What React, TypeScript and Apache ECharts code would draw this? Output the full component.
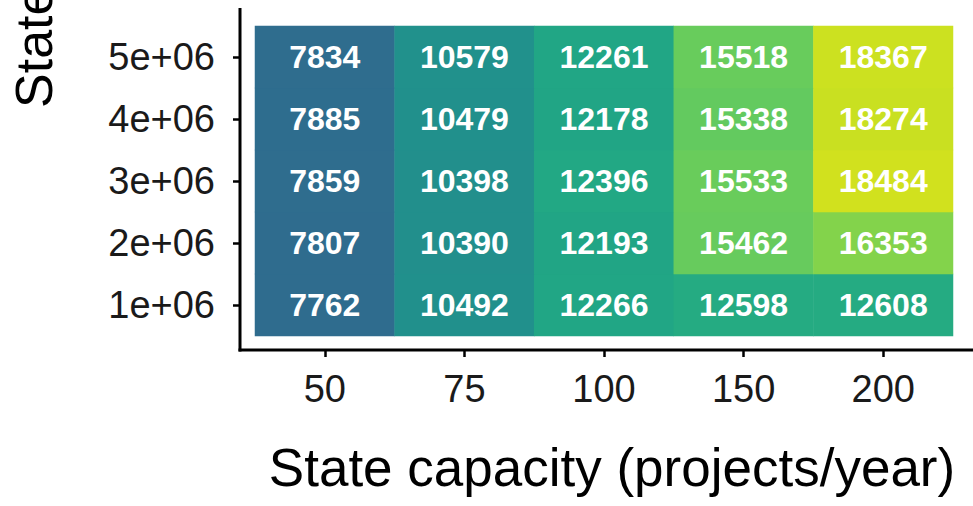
import React, { useEffect, useRef } from "react";
import * as echarts from "echarts";

const xCategories = ["50", "75", "100", "150", "200"];
const yCategories = ["1e+06", "2e+06", "3e+06", "4e+06", "5e+06"];
// rows from bottom (1e+06) to top (5e+06), columns 50..200
const row1e6 = [7762, 10492, 12266, 12598, 12608];
const row2e6 = [7807, 10390, 12193, 15462, 16353];
const row3e6 = [7859, 10398, 12396, 15533, 18484];
const row4e6 = [7885, 10479, 12178, 15338, 18274];
const row5e6 = [7834, 10579, 12261, 15518, 18367];
const rows = [row1e6, row2e6, row3e6, row4e6, row5e6];

const xTitle = "State capacity (projects/year)";
const yTitle = "State budget ($/year)";

const viridis = [
  "#440154", "#471365", "#482475", "#463480", "#414487", "#3B528B", "#355F8D",
  "#2F6C8E", "#2A788E", "#25848E", "#21918C", "#1E9C89", "#22A884", "#2FB47C",
  "#44BF70", "#5EC962", "#7AD151", "#9BD93C", "#BDDF26", "#DFE318", "#FDE725",
];

const FONT = "'Liberation Sans', Arial, Helvetica, sans-serif";

export default function App() {
  const ref = useRef<HTMLDivElement>(null);
  useEffect(() => {
    if (!ref.current) return;
    const chart = echarts.init(ref.current, null, { renderer: "svg" });
    const data: [number, number, number][] = [];
    rows.forEach((r, yi) => r.forEach((v, xi) => data.push([xi, yi, v])));
    chart.setOption({
      animation: false,
      backgroundColor: "#ffffff",
      grid: { left: 255, right: 20, top: 26, bottom: 170 },
      xAxis: {
        type: "category",
        data: xCategories,
        offset: 14,
        axisLine: { show: false },
        axisTick: { show: true, alignWithLabel: true, length: 7, lineStyle: { color: "#000", width: 2.5 } },
        axisLabel: { color: "#1a1a1a", fontSize: 38, fontFamily: FONT, margin: 20 },
        splitLine: { show: false },
      },
      yAxis: {
        type: "category",
        data: yCategories,
        offset: 15,
        axisLine: { show: false },
        axisTick: { show: true, alignWithLabel: true, length: 7, lineStyle: { color: "#000", width: 2.5 } },
        axisLabel: { color: "#1a1a1a", fontSize: 38, fontFamily: FONT, margin: 25 },
        splitLine: { show: false },
      },
      visualMap: {
        show: false,
        min: 1300,
        max: 19800,
        dimension: 2,
        inRange: { color: viridis },
      },
      series: [
        {
          type: "heatmap",
          data,
          itemStyle: { borderWidth: 0 },
          label: {
            show: true,
            color: "#ffffff",
            fontWeight: "bold",
            fontSize: 32,
            fontFamily: FONT,
            formatter: (p: any) => String(p.value[2]),
          },
        },
      ],
      graphic: [
        { type: "line", shape: { x1: 240, y1: 8, x2: 240, y2: 351.5 }, style: { stroke: "#000", lineWidth: 3 } },
        { type: "line", shape: { x1: 238.5, y1: 350, x2: 973, y2: 350 }, style: { stroke: "#000", lineWidth: 3 } },
        {
          type: "text",
          x: 612,
          y: 467,
          style: { text: xTitle, fill: "#000", fontSize: 53, fontFamily: FONT, align: "center", verticalAlign: "middle" },
        },
        {
          type: "text",
          x: 34,
          y: 108,
          rotation: Math.PI / 2,
          style: { text: yTitle, fill: "#000", fontSize: 52, fontFamily: FONT, align: "left", verticalAlign: "middle" },
        },
      ],
    });
    return () => chart.dispose();
  }, []);
  return <div ref={ref} style={{ width: 973, height: 506, position: "absolute", left: 0, top: 0 }} />;
}
